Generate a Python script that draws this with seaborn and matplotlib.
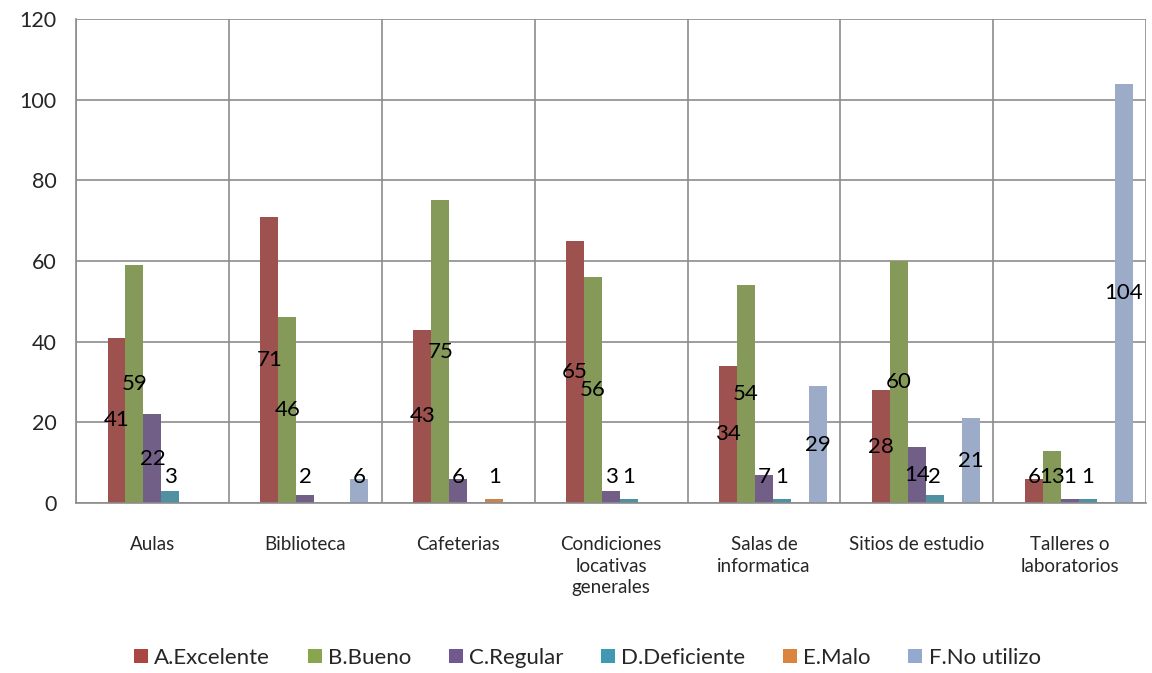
import matplotlib
matplotlib.use("Agg")
import matplotlib.pyplot as plt
import seaborn as sns
import pandas as pd
from matplotlib.ticker import MultipleLocator, FixedLocator
from matplotlib.lines import Line2D

# Data
categories = ["Aulas", "Biblioteca", "Cafeterias", "Condiciones\nlocativas\ngenerales",
              "Salas de\ninformatica", "Sitios de estudio", "Talleres o\nlaboratorios"]
series = ["A.Excelente", "B.Bueno", "C.Regular", "D.Deficiente", "E.Malo", "F.No utilizo"]
excelente = [41, 71, 43, 65, 34, 28, 6]
bueno = [59, 46, 75, 56, 54, 60, 13]
regular = [22, 2, 6, 3, 7, 14, 1]
deficiente = [3, 0, 0, 1, 1, 2, 1]
malo = [0, 0, 1, 0, 0, 0, 0]
no_utilizo = [0, 6, 0, 0, 29, 21, 104]
colors = ["#AA4643", "#89A54E", "#71588F", "#4198AF", "#DB843D", "#93A9CF"]

values = [excelente, bueno, regular, deficiente, malo, no_utilizo]
rows = []
# the original chart has an empty first series slot in each group
for c in categories:
    rows.append({"cat": c, "serie": "_blank", "val": 0})
for s, vals in zip(series, values):
    for c, v in zip(categories, vals):
        rows.append({"cat": c, "serie": s, "val": v})
df = pd.DataFrame(rows)

sns.set_style("white")
plt.rcParams["font.family"] = ["Lato", "DejaVu Sans"]

fig = plt.figure(figsize=(11.52, 6.73), dpi=100)
ax = fig.add_axes([0.066, 0.2526, 0.929, 0.7192])

hue_order = ["_blank"] + series
group_w = 7 / 8.5
sns.barplot(data=df, x="cat", y="val", hue="serie", hue_order=hue_order, order=categories,
            palette=["#ffffff"] + colors, width=group_w, gap=0, linewidth=0,
            legend=False, ax=ax)

# data labels, centred in the bars, pushed up for short bars
bw = group_w / len(hue_order)
for i, vals in enumerate(values):
    for j, v in enumerate(vals):
        if v == 0:
            continue
        x = j - group_w / 2 + bw * (i + 1.5)
        ax.text(x, max(v / 2, 6.4), str(v), ha="center", va="center",
                fontsize=16, color="black")

ax.set_xlim(-0.5, len(categories) - 0.5)
ax.set_ylim(0, 120)
ax.yaxis.set_major_locator(MultipleLocator(20))
ax.xaxis.set_minor_locator(FixedLocator([k - 0.5 for k in range(len(categories) + 1)]))

gc = "#8C8C8C"
ax.grid(axis="y", which="major", color=gc, linewidth=1.2)
ax.grid(axis="x", which="minor", color=gc, linewidth=1.2)
ax.grid(axis="x", which="major", visible=False)
ax.set_axisbelow(True)

for side in ["top", "right"]:
    ax.spines[side].set_visible(False)
for side in ["left", "bottom"]:
    ax.spines[side].set_color(gc)
    ax.spines[side].set_linewidth(1.2)

ax.tick_params(axis="y", which="major", length=6, color=gc, width=1.2, labelsize=15.5, pad=8)
ax.tick_params(axis="x", which="major", length=0, labelsize=13.5, pad=24)
ax.tick_params(axis="x", which="minor", length=7, color=gc, width=1.2, direction="out")
ax.set_xlabel("")
ax.set_ylabel("")
for lab in ax.get_xticklabels():
    lab.set_linespacing(1.3)

handles = [Line2D([0], [0], marker="s", linestyle="", markersize=10,
                  markerfacecolor=c, markeredgewidth=0) for c in colors]
fig.legend(handles, series, loc="center", bbox_to_anchor=(0.508, 0.022), ncol=6,
           frameon=False, fontsize=16, handletextpad=0.1, columnspacing=1.5,
           handlelength=1.0)

fig.savefig("out.png", dpi=100)
